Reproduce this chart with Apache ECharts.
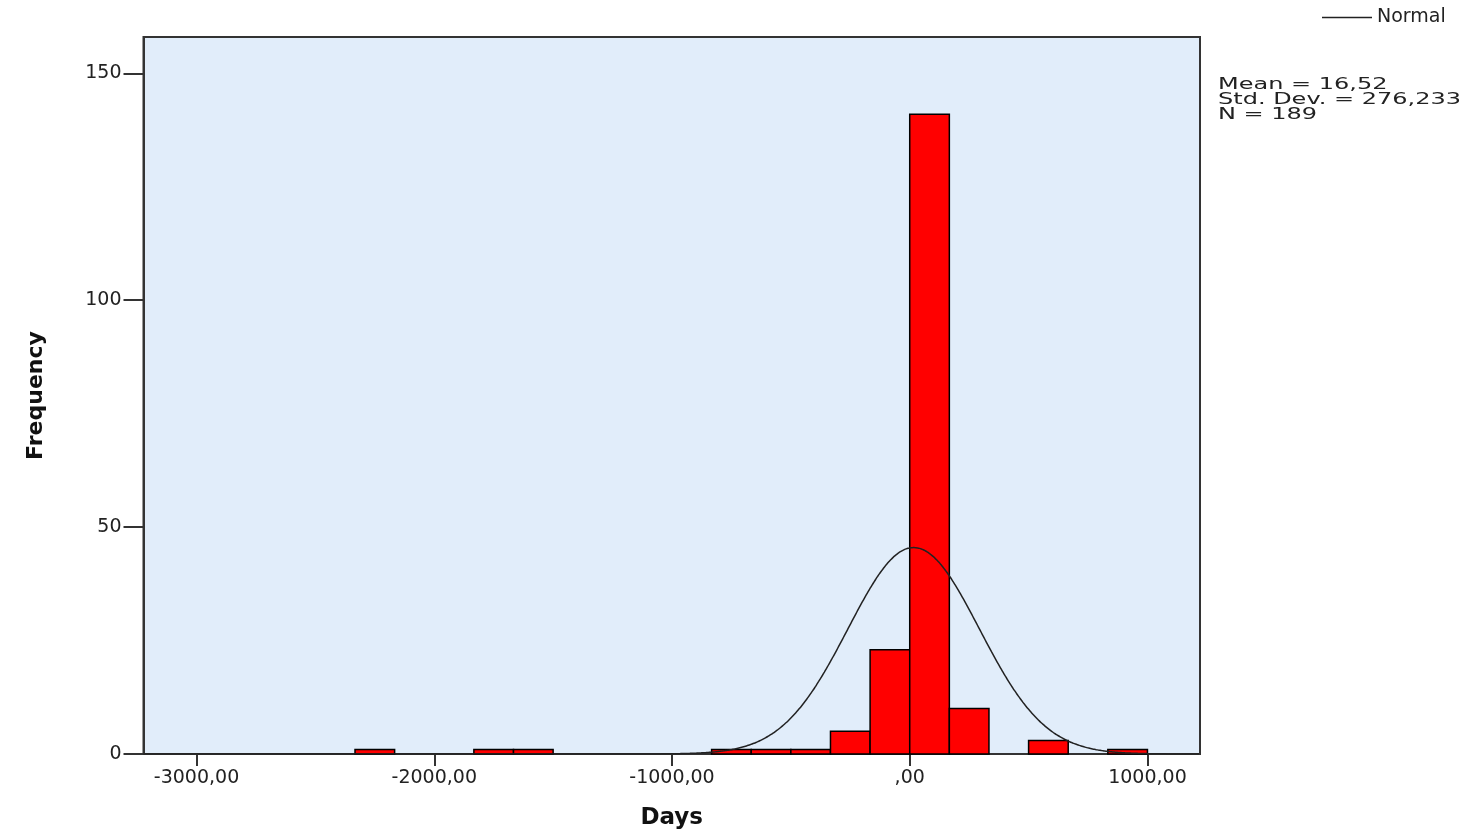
<!DOCTYPE html>
<html>
<head>
<meta charset="utf-8">
<script src="https://cdn.jsdelivr.net/npm/echarts@6/dist/echarts.min.js"></script>
<style>
html,body{margin:0;padding:0;background:#fff;}
#chart{width:1471px;height:835px;}
</style>
</head>
<body>
<div id="chart"></div>
<script>
// ---- data ----
var binStart = [-2333.33, -1833.33, -1666.67, -833.33, -666.67, -500, -333.33, -166.67, 0, 166.67, 500, 833.33];
var binEnd   = [-2166.67, -1666.67, -1500, -666.67, -500, -333.33, -166.67, 0, 166.67, 333.33, 666.67, 1000];
var binCount = [1, 1, 1, 1, 1, 1, 5, 23, 141, 10, 3, 1];
var xTickValues = [-3000, -2000, -1000, 0, 1000];
var yTickValues = [0, 50, 100, 150];
var statMean = 16.52;
var statStdDev = 276.233;
var statN = 189;
var statMeanText = '16,52';
var statStdDevText = '276,233';
var statNText = '189';

// ---- build series data ----
var histData = binStart.map(function (s, i) { return [s, binEnd[i], binCount[i]]; });
var binWidth = binEnd[0] - binStart[0];
var xMin = -3223, xMax = 1221;
var curveData = [];
for (var x = xMin; x <= xMax; x += 8) {
  var z = (x - statMean) / statStdDev;
  curveData.push([x, statN * binWidth * Math.exp(-0.5 * z * z) / (statStdDev * Math.sqrt(2 * Math.PI))]);
}

function fmtX(v) {
  if (v === 0) return ',00';
  return String(v) + ',00';
}

var FONT = 'DejaVu Sans';
var chart = echarts.init(document.getElementById('chart'), null, { renderer: 'canvas' });
chart.setOption({
  backgroundColor: '#ffffff',
  animation: false,
  grid: {
    left: 143.5, right: 271, top: 37, bottom: 81,
    show: true, backgroundColor: '#E1EDFA', borderColor: '#333333', borderWidth: 2
  },
  legend: {
    show: true, selectedMode: false,
    left: 1317, top: 3,
    itemWidth: 50, itemHeight: 1.5, itemGap: 5,
    data: [{ name: 'Normal', icon: 'rect' }],
    textStyle: { fontFamily: FONT, fontSize: 19, color: '#222' }
  },
  xAxis: {
    type: 'value', min: xMin, max: xMax,
    name: 'Days', nameLocation: 'middle', nameGap: 53,
    nameTextStyle: { fontFamily: FONT, fontSize: 23, fontWeight: 'bold', color: '#111' },
    axisLine: { show: true, onZero: false, lineStyle: { color: '#333', width: 2 } },
    axisTick: { show: true, customValues: xTickValues, length: 12, lineStyle: { color: '#333', width: 2 } },
    axisLabel: { customValues: xTickValues, margin: 15, fontFamily: FONT, fontSize: 19, color: '#222', formatter: fmtX },
    splitLine: { show: false }
  },
  yAxis: {
    type: 'value', min: 0, max: 158,
    name: 'Frequency', nameLocation: 'middle', nameGap: 96,
    nameTextStyle: { fontFamily: FONT, fontSize: 22, fontWeight: 'bold', color: '#111' },
    axisLine: { show: true, onZero: false, lineStyle: { color: '#333', width: 2 } },
    axisTick: { show: true, customValues: yTickValues, length: 20, lineStyle: { color: '#333', width: 2 } },
    axisLabel: { customValues: yTickValues, margin: 22, fontFamily: FONT, fontSize: 19, color: '#222' },
    splitLine: { show: false }
  },
  graphic: [{
    type: 'text', left: 1218, top: 78, scaleX: 1.6,
    style: {
      text: 'Mean = ' + statMeanText + '\nStd. Dev. = ' + statStdDevText + '\nN = ' + statNText,
      font: '15px "DejaVu Sans"', lineHeight: 15, fill: '#222'
    }
  }],
  series: [{
    type: 'custom', name: 'Histogram', z: 2,
    data: histData,
    encode: { x: [0, 1], y: 2 },
    renderItem: function (params, api) {
      var p0 = api.coord([api.value(0), api.value(2)]);
      var p1 = api.coord([api.value(1), 0]);
      return {
        type: 'rect',
        shape: { x: p0[0], y: p0[1], width: p1[0] - p0[0], height: p1[1] - p0[1] },
        style: { fill: '#FF0000', stroke: '#000', lineWidth: 1.5 }
      };
    }
  }, {
    type: 'line', name: 'Normal', z: 3,
    data: curveData, showSymbol: false, symbol: 'none', smooth: true,
    itemStyle: { color: '#222' },
    lineStyle: { color: '#222', width: 1.5 }
  }]
});
</script>
</body>
</html>
